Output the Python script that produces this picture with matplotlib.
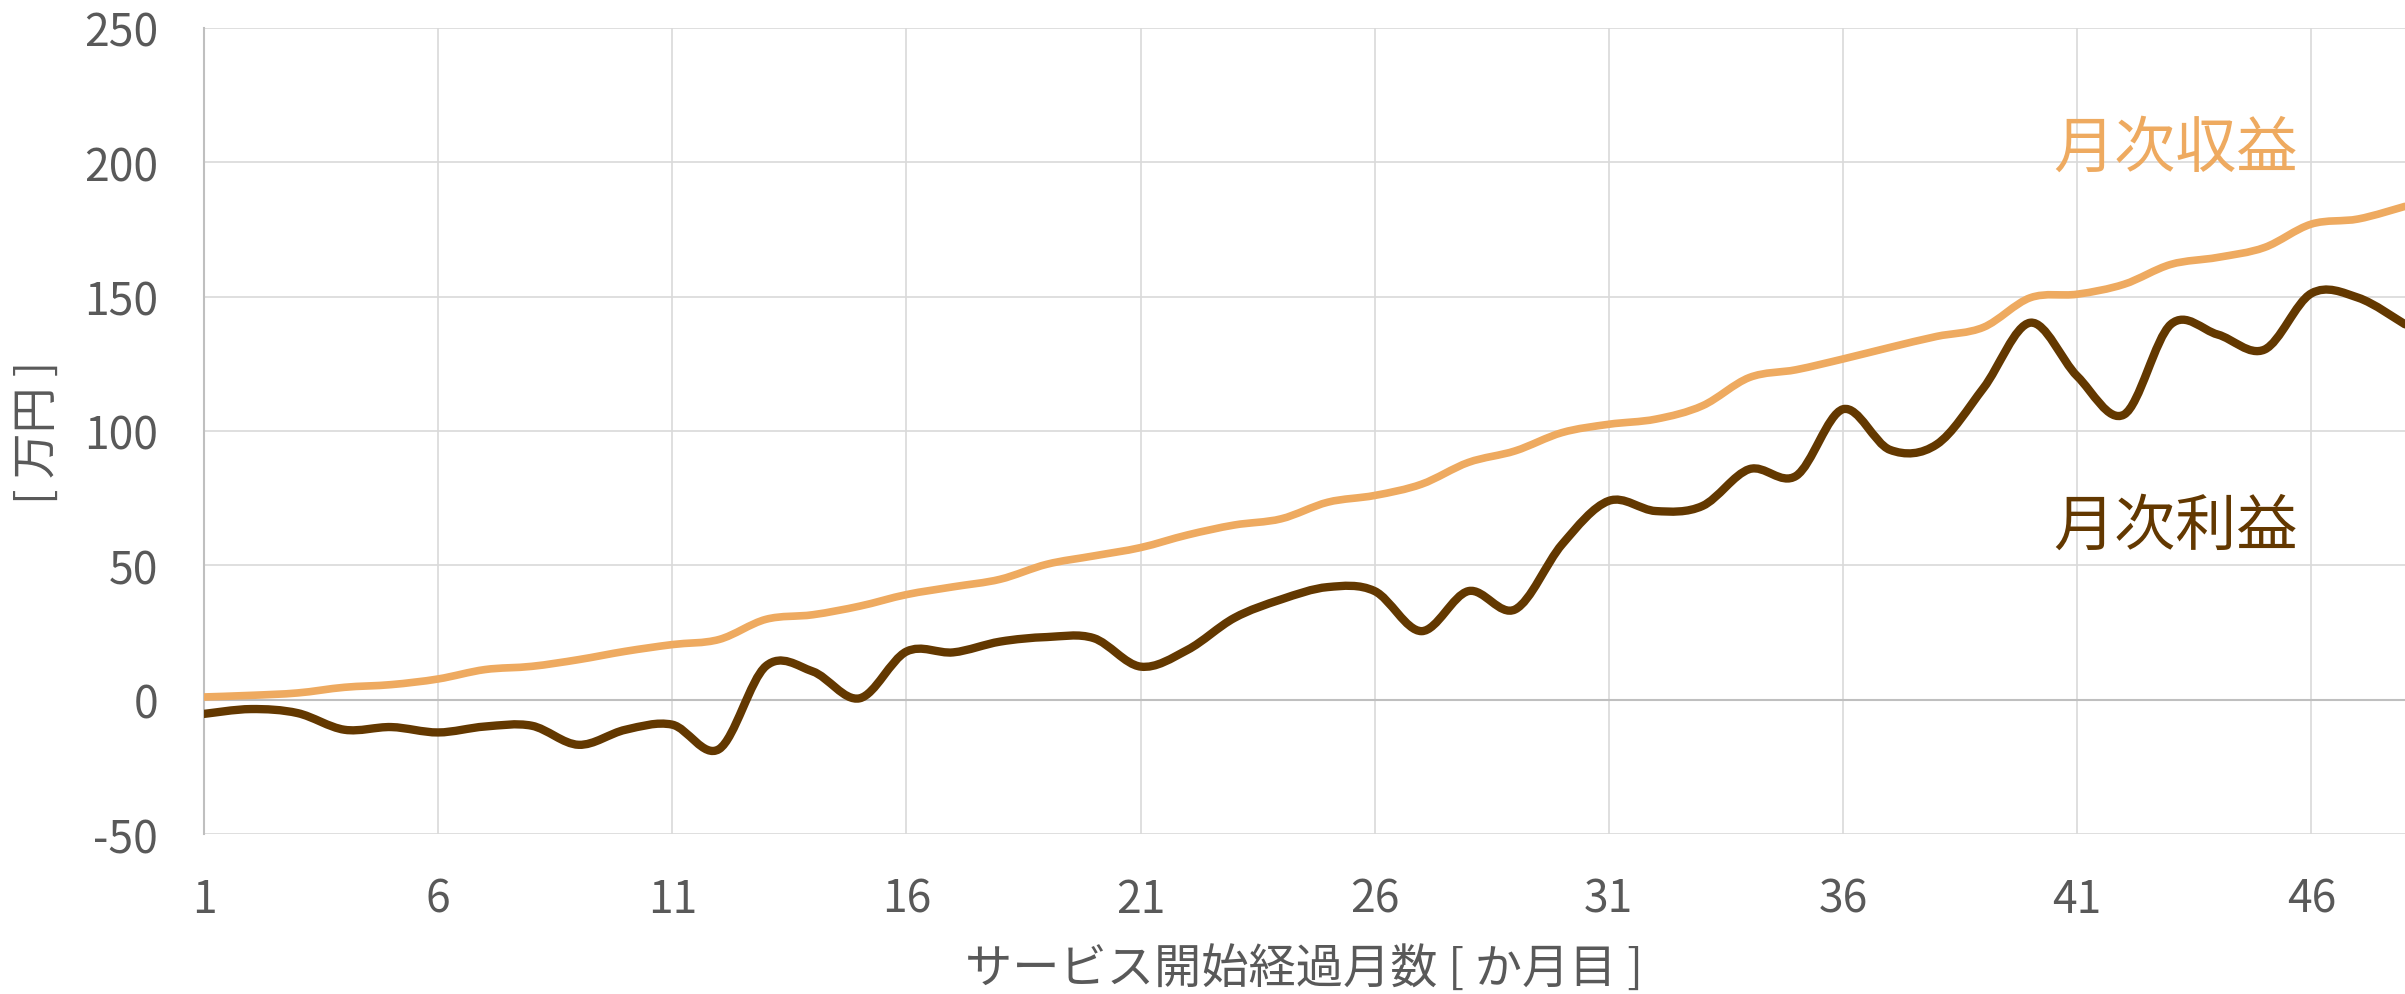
import numpy as np
import matplotlib
matplotlib.use("Agg")
import matplotlib.pyplot as plt
from matplotlib.path import Path
from matplotlib.patches import PathPatch

plt.rcParams['font.family'] = ['Noto Sans CJK JP', 'DejaVu Sans']
plt.rcParams['axes.unicode_minus'] = False

months = list(range(1, 49))
revenue = [1, 1.6, 2.5, 4.6, 5.6, 7.7, 11.2, 12.4, 14.9, 18, 20.5, 22.4,
           29.9, 31.6, 34.8, 39.1, 42, 44.8, 50.4, 53.5, 56.6, 61.3, 65, 67.3,
           73.5, 76, 80.2, 88.3, 92.6, 99.4, 102.5, 104.4, 109.4, 119.9, 122.8, 126.8,
           131.1, 135.2, 138.6, 149.6, 150.9, 154.6, 162, 164.6, 168.3, 177, 178.9, 183.6]
profit = [-5.3, -3.5, -5, -11.2, -10.2, -12.2, -10, -9.7, -16.8, -11.2, -9.3, -18.4,
          12.5, 10.5, 0.5, 17.9, 17.6, 21.6, 23.3, 22.9, 12.3, 18.5, 30.4, 37.3,
          41.9, 40.4, 25.5, 40.4, 33.6, 57.8, 74, 70.2, 72.1, 85.8, 83.3, 108.1,
          93, 95, 116, 140.3, 120.4, 106.1, 139.7, 135.9, 130.3, 151.2, 149.6, 139.7]

xticks = [1, 6, 11, 16, 21, 26, 31, 36, 41, 46]
yticks = [-50, 0, 50, 100, 150, 200, 250]

c_rev = "#EEAA60"
c_pro = "#633800"
c_txt = "#595959"


def smooth_path(x, y):
    # excel-like smoothed line: cubic bezier through every point
    p = np.column_stack([x, y]).astype(float)
    n = len(p)
    verts = [p[0]]
    codes = [Path.MOVETO]
    for i in range(n - 1):
        p0 = p[max(i - 1, 0)]
        p1 = p[i]
        p2 = p[i + 1]
        p3 = p[min(i + 2, n - 1)]
        verts += [p1 + (p2 - p0) / 6, p2 - (p3 - p1) / 6, p2]
        codes += [Path.CURVE4] * 3
    return Path(verts, codes)


fig = plt.figure(figsize=(24.05, 9.95), dpi=100)
ax = fig.add_axes([0.0848, 0.1608, 0.9152, 0.8101])

ax.add_patch(PathPatch(smooth_path(months, revenue), fill=False, edgecolor=c_rev,
                       lw=5.5, capstyle='round', joinstyle='round', zorder=3))
ax.add_patch(PathPatch(smooth_path(months, profit), fill=False, edgecolor=c_pro,
                       lw=6, capstyle='round', joinstyle='round', zorder=4))

ax.set_xlim(1, 48)
ax.set_ylim(-50, 250)
ax.set_xticks(xticks)
ax.set_yticks(yticks)
ax.grid(True, color="#D9D9D9", lw=1.2, zorder=0)
ax.set_axisbelow(True)
for s in ['top', 'right', 'bottom']:
    ax.spines[s].set_visible(False)
ax.spines['left'].set_color("#BFBFBF")
ax.spines['left'].set_linewidth(1.5)
ax.axhline(0, color="#BFBFBF", lw=1.5, zorder=1)
ax.tick_params(axis='y', length=0, labelsize=32, labelcolor=c_txt, pad=33)
ax.tick_params(axis='x', length=0, labelsize=32, labelcolor=c_txt, pad=30)

ax.set_xlabel("サービス開始経過月数 [ か月目 ]", fontsize=34, color=c_txt, labelpad=16)
ax.set_ylabel("[ 万円 ]", fontsize=33, color=c_txt, labelpad=16)

ax.text(43.1, 205, "月次収益", fontsize=44, color=c_rev, ha='center', va='center')
ax.text(43.1, 64.6, "月次利益", fontsize=44, color=c_pro, ha='center', va='center')

fig.savefig("out.png", dpi=100)
